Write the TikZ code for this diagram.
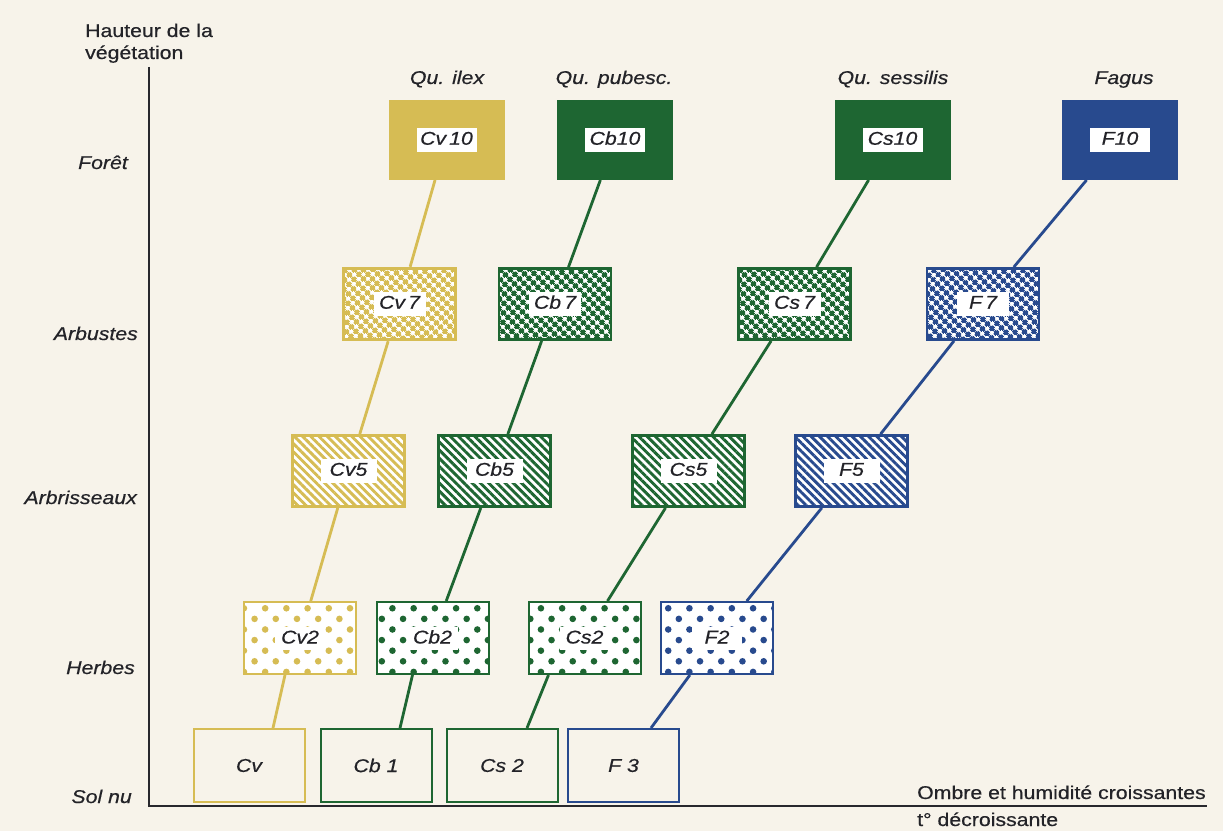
\documentclass[tikz,border=0pt]{standalone}
\usepackage{fontspec}
\setmainfont[FakeStretch=1.15,FakeBold=0.5]{Liberation Sans}
\usetikzlibrary{patterns.meta}
\definecolor{cvc}{RGB}{214,188,84}
\definecolor{cbc}{RGB}{30,102,50}
\definecolor{fc}{RGB}{40,74,142}
\definecolor{bg}{RGB}{247,243,234}
\definecolor{axc}{RGB}{40,40,45}
\definecolor{txtc}{RGB}{35,35,40}
\newcommand\boxlab[2][46pt]{{\setlength\fboxsep{3pt}\colorbox{white}{\makebox[#1]{\rule[-4pt]{0pt}{17.5pt}\itshape #2}}}}
\newcommand\dotlab[1]{{\setlength\fboxsep{2pt}\colorbox{white}{\makebox[46pt]{\rule[-4pt]{0pt}{19pt}\itshape #1}}}}
\tikzset{
  every node/.style={font=\fontsize{18.5pt}{22pt}\selectfont, inner sep=0pt, text=txtc},
  itxt/.style={font=\fontsize{18.5pt}{22pt}\selectfont\itshape},
  axisline/.style={draw=axc, line width=2.2pt},
  solidbox/.style={draw=#1, fill=#1, line width=2pt, minimum width=114pt, minimum height=78pt},
  hatchbox/.style={draw=#1, line width=2.8pt, minimum width=112pt, minimum height=71pt,
    preaction={fill=white}, pattern={Hatch[angle=45,distance=6.5pt,line width=3.4pt]}, pattern color=#1},
  stripebox/.style={draw=#1, line width=2.8pt, minimum width=112pt, minimum height=71pt,
    preaction={fill=white}, pattern={Lines[angle=-45,distance=5.8pt,line width=2.9pt]}, pattern color=#1},
  dotbox/.style={draw=#1, line width=2pt, minimum width=112pt, minimum height=72pt,
    preaction={fill=white}, pattern={Dots[angle=45,distance=15pt,radius=3.3pt]}, pattern color=#1},
  plainbox/.style={draw=#1, line width=2pt, fill=bg, minimum width=111pt, minimum height=73pt},
  link/.style={draw=#1, line width=2.8pt}
}
\begin{document}
\begin{tikzpicture}[x=1pt,y=1pt]
\useasboundingbox (0,0) rectangle (1223,831);
\fill[bg] (0,0) rectangle (1223,831);

% axes
\coordinate (ytop) at (149,764);
\coordinate (orig) at (149,25);
\coordinate (xend) at (1207,25);
\draw[axisline] (ytop) -- (orig) -- (xend);

% axis titles
\node[anchor=base west] (h1) at (85,794) {Hauteur de la};
\node[anchor=base west] (h2) at (85,772) {végétation};
\node[anchor=base west] (o1) at (917,32) {Ombre et humidité croissantes};
\node[anchor=base west] (o2) at (917,5) {t° décroissante};

% row labels
\node[itxt, anchor=base east] (lforet) at (128,662) {Forêt};
\node[itxt, anchor=base east] (larbu) at (138,491) {Arbustes};
\node[itxt, anchor=base east] (larbr) at (137,327) {Arbrisseaux};
\node[itxt, anchor=base east] (lherb) at (135,157) {Herbes};
\node[itxt, anchor=base east] (lsol) at (132,28) {Sol nu};

% column headers
\node[itxt, anchor=base] (qilex) at (447,747) {Qu. ilex};
\node[itxt, anchor=base] (qpub) at (614,747) {Qu. pubesc.};
\node[itxt, anchor=base] (qses) at (893,747) {Qu. sessilis};
\node[itxt, anchor=base] (fag) at (1124,747) {Fagus};

% row 10
\node[solidbox=cvc] (cv10) at (446.5,691) {\boxlab[54pt]{Cv\,10}};
\node[solidbox=cbc] (cb10) at (615,691) {\boxlab[54pt]{Cb10}};
\node[solidbox=cbc] (cs10) at (892.5,691) {\boxlab[54pt]{Cs10}};
\node[solidbox=fc] (f10) at (1120,691) {\boxlab[54pt]{F10}};
% row 7
\node[hatchbox=cvc] (cv7) at (399.5,527) {\boxlab{Cv\,7}};
\node[hatchbox=cbc] (cb7) at (555,527) {\boxlab{Cb\,7}};
\node[hatchbox=cbc] (cs7) at (794.5,527) {\boxlab{Cs\,7}};
\node[hatchbox=fc] (f7) at (983,527) {\boxlab{F\,7}};
% row 5
\node[stripebox=cvc] (cv5) at (348.5,360) {\boxlab[50pt]{Cv5}};
\node[stripebox=cbc] (cb5) at (494.5,360) {\boxlab[50pt]{Cb5}};
\node[stripebox=cbc] (cs5) at (688.5,360) {\boxlab[50pt]{Cs5}};
\node[stripebox=fc] (f5) at (851.5,360) {\boxlab[50pt]{F5}};
% row 2
\node[dotbox=cvc] (cv2) at (300,193) {\dotlab{Cv2}};
\node[dotbox=cbc] (cb2) at (432.5,193) {\dotlab{Cb2}};
\node[dotbox=cbc] (cs2) at (584.5,193) {\dotlab{Cs2}};
\node[dotbox=fc] (f2) at (717,193) {\dotlab{F2}};
% row 1
\node[plainbox=cvc, itxt] (cv1) at (249,65.5) {Cv};
\node[plainbox=cbc, itxt] (cb1) at (376,65.5) {Cb 1};
\node[plainbox=cbc, itxt] (csb) at (502,65.5) {Cs 2};
\node[plainbox=fc, itxt] (f3) at (623.5,65.5) {F 3};

% connectors
\foreach \a/\b in {cv10/cv7, cv7/cv5, cv5/cv2}
  \draw[link=cvc] (\a) -- (\b);
\draw[link=cvc] ([xshift=-15pt]cv2.south) -- ([xshift=24pt]cv1.north);
\foreach \a/\b in {cb10/cb7, cb7/cb5, cb5/cb2, cs10/cs7, cs7/cs5, cs5/cs2}
  \draw[link=cbc] (\a) -- (\b);
\draw[link=cbc] ([xshift=-20pt]cb2.south) -- ([xshift=24pt]cb1.north);
\draw[link=cbc] ([xshift=-36pt]cs2.south) -- ([xshift=25pt]csb.north);
\foreach \a/\b in {f10/f7, f7/f5, f5/f2, f2/f3}
  \draw[link=fc] (\a) -- (\b);
\end{tikzpicture}
\end{document}
